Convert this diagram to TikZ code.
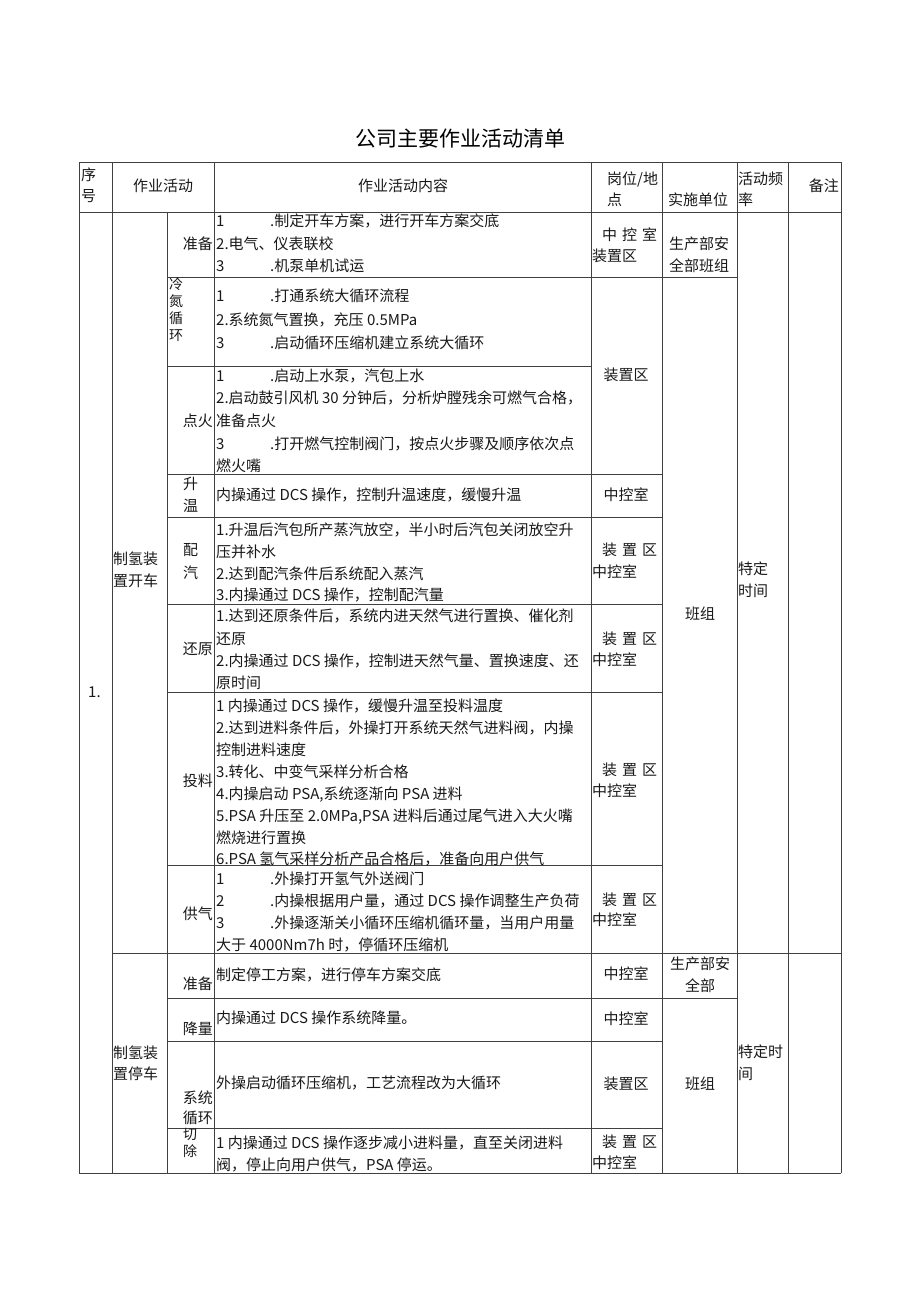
\documentclass[tikz,border=0pt]{standalone}
\usepackage{fontspec}
\setmainfont{Noto Sans CJK SC}
\tikzset{
  ln/.style={draw=black!75, line width=0.8pt},
  tx/.style={anchor=west, inner sep=0pt, text height=0.88em, text depth=0.12em, yshift=-1pt, font=\fontsize{15}{18}\selectfont, text=black!90},
  tc/.style={tx, anchor=center},
  te/.style={tx, anchor=east},
  sc/.style={tx, font=\fontsize{14}{16}\selectfont},
  ttl/.style={anchor=center, inner sep=0pt, font=\fontsize{21}{24}\selectfont}
}
\begin{document}
\begin{tikzpicture}[x=1pt,y=-1pt]
\useasboundingbox (0,0) rectangle (920,1301);
\fill[white] (0,0) rectangle (920,1301);
% title
\node[ttl] (title) at (460,139) {公司主要作业活动清单};
% grid: horizontal
\draw[ln] (79,162) -- (841,162);
\draw[ln] (79,212) -- (841,212);
\draw[ln] (167,277) -- (737,277);
\draw[ln] (167,366) -- (591,366);
\draw[ln] (167,474) -- (662,474);
\draw[ln] (167,517) -- (662,517);
\draw[ln] (167,604) -- (662,604);
\draw[ln] (167,692) -- (662,692);
\draw[ln] (167,865) -- (662,865);
\draw[ln] (112,953) -- (841,953);
\draw[ln] (167,998) -- (737,998);
\draw[ln] (167,1041) -- (662,1041);
\draw[ln] (167,1128) -- (662,1128);
\draw[ln] (79,1173) -- (841,1173);
% grid: vertical
\foreach \xx in {79,112,214,591,662,737,788,841} {\draw[ln] (\xx,162) -- (\xx,1173);}
\draw[ln] (167,212) -- (167,1173);
% header
\node[tx] (h1a) at (81,176) {序};
\node[tx] (h1b) at (81,197) {号};
\node[tc] (h2) at (163,187) {作业活动};
\node[tc] (h3) at (403,187) {作业活动内容};
\node[tx] (h4a) at (607,180) {岗位/地};
\node[tx] (h4b) at (607,201) {点};
\node[tx] (h5) at (668,201) {实施单位};
\node[tx] (h6a) at (738,180) {活动频};
\node[tx] (h6b) at (738,201) {率};
\node[te] (h7) at (839,187) {备注};
% column 1 and 2
\node[tx] (n1) at (88,693) {1.};
\node[tx] (g1a) at (113,560) {制氢装};
\node[tx] (g1b) at (113,582) {置开车};
\node[tx] (g2a) at (113,1054) {制氢装};
\node[tx] (g2b) at (113,1075) {置停车};
% sub activities
\node[te] (s1) at (213,245) {准备};
\node[sc] (s2a) at (169,285) {冷};
\node[sc] (s2b) at (169,302) {氮};
\node[sc] (s2c) at (169,319) {循};
\node[sc] (s2d) at (169,336) {环};
\node[te] (s3) at (213,422) {点火};
\node[tx] (s4a) at (183,485) {升};
\node[tx] (s4b) at (183,507) {温};
\node[tx] (s5a) at (183,551) {配};
\node[tx] (s5b) at (183,574) {汽};
\node[te] (s6) at (213,650) {还原};
\node[te] (s7) at (213,782) {投料};
\node[te] (s8) at (213,915) {供气};
\node[te] (s9) at (213,985) {准备};
\node[te] (s10) at (213,1030) {降量};
\node[te] (s11a) at (213,1099) {系统};
\node[te] (s11b) at (213,1119) {循环};
\node[sc] (s12a) at (183,1135) {切};
\node[sc] (s12b) at (183,1152) {除};
% content: 准备
\node[tx] (a1) at (216,222) {1};
\node[tx] (a1b) at (270,222) {.制定开车方案，进行开车方案交底};
\node[tx] (a2) at (216,245) {2.电气、仪表联校};
\node[tx] (a3) at (216,267) {3};
\node[tx] (a3b) at (270,267) {.机泵单机试运};
% 冷氮循环
\node[tx] (b1) at (216,297) {1};
\node[tx] (b1b) at (270,297) {.打通系统大循环流程};
\node[tx] (b2) at (216,321) {2.系统氮气置换，充压 0.5MPa};
\node[tx] (b3) at (216,344) {3};
\node[tx] (b3b) at (270,344) {.启动循环压缩机建立系统大循环};
% 点火
\node[tx] (c1) at (216,377) {1};
\node[tx] (c1b) at (270,377) {.启动上水泵，汽包上水};
\node[tx] (c2) at (216,399) {2.启动鼓引风机 30 分钟后，分析炉膛残余可燃气合格，};
\node[tx] (c3) at (216,422) {准备点火};
\node[tx] (c4) at (216,445) {3};
\node[tx] (c4b) at (270,445) {.打开燃气控制阀门，按点火步骤及顺序依次点};
\node[tx] (c5) at (216,467) {燃火嘴};
% 升温
\node[tx] (d1) at (216,496) {内操通过 DCS 操作，控制升温速度，缓慢升温};
% 配汽
\node[tx] (e1) at (216,531) {1.升温后汽包所产蒸汽放空，半小时后汽包关闭放空升};
\node[tx] (e2) at (216,553) {压并补水};
\node[tx] (e3) at (216,575) {2.达到配汽条件后系统配入蒸汽};
\node[tx] (e4) at (216,596) {3.内操通过 DCS 操作，控制配汽量};
% 还原
\node[tx] (f1) at (216,617) {1.达到还原条件后，系统内进天然气进行置换、催化剂};
\node[tx] (f2) at (216,640) {还原};
\node[tx] (f3) at (216,662) {2.内操通过 DCS 操作，控制进天然气量、置换速度、还};
\node[tx] (f4) at (216,684) {原时间};
% 投料
\node[tx] (k1) at (216,707) {1 内操通过 DCS 操作，缓慢升温至投料温度};
\node[tx] (k2) at (216,729) {2.达到进料条件后，外操打开系统天然气进料阀，内操};
\node[tx] (k3) at (216,751) {控制进料速度};
\node[tx] (k4) at (216,773) {3.转化、中变气采样分析合格};
\node[tx] (k5) at (216,795) {4.内操启动 PSA,系统逐渐向 PSA 进料};
\node[tx] (k6) at (216,817) {5.PSA 升压至 2.0MPa,PSA 进料后通过尾气进入大火嘴};
\node[tx] (k7) at (216,839) {燃烧进行置换};
\node[tx] (k8) at (216,860) {6.PSA 氢气采样分析产品合格后，准备向用户供气};
% 供气
\node[tx] (m1) at (216,880) {1};
\node[tx] (m1b) at (270,880) {.外操打开氢气外送阀门};
\node[tx] (m2) at (216,902) {2};
\node[tx] (m2b) at (270,902) {.内操根据用户量，通过 DCS 操作调整生产负荷};
\node[tx] (m3) at (216,924) {3};
\node[tx] (m3b) at (270,924) {.外操逐渐关小循环压缩机循环量，当用户用量};
\node[tx] (m4) at (216,946) {大于 4000Nm7h 时，停循环压缩机};
% 停车
\node[tx] (q1) at (216,976) {制定停工方案，进行停车方案交底};
\node[tx] (q2) at (216,1019) {内操通过 DCS 操作系统降量。};
\node[tx] (q3) at (216,1084) {外操启动循环压缩机，工艺流程改为大循环};
\node[tx] (q4a) at (216,1144) {1 内操通过 DCS 操作逐步减小进料量，直至关闭进料};
\node[tx] (q4b) at (216,1166) {阀，停止向用户供气，PSA 停运。};
% 岗位/地点
\node[tx] (p1a) at (602,236) {中\hspace{5pt}控\hspace{5pt}室};
\node[tx] (p1b) at (592,257) {装置区};
\node[tc] (p2) at (626,376) {装置区};
\node[tc] (p3) at (626,496) {中控室};
\node[tx] (p4a) at (602,551) {装\hspace{5pt}置\hspace{5pt}区};
\node[tx] (p4b) at (592,573) {中控室};
\node[tx] (p5a) at (602,640) {装\hspace{5pt}置\hspace{5pt}区};
\node[tx] (p5b) at (592,661) {中控室};
\node[tx] (p6a) at (602,771) {装\hspace{5pt}置\hspace{5pt}区};
\node[tx] (p6b) at (592,792) {中控室};
\node[tx] (p7a) at (602,901) {装\hspace{5pt}置\hspace{5pt}区};
\node[tx] (p7b) at (592,921) {中控室};
\node[tc] (p8) at (626,975) {中控室};
\node[tc] (p9) at (626,1020) {中控室};
\node[tc] (p10) at (626,1085) {装置区};
\node[tx] (p11a) at (602,1143) {装\hspace{5pt}置\hspace{5pt}区};
\node[tx] (p11b) at (592,1164) {中控室};
% 实施单位
\node[tx] (u1a) at (669,245) {生产部安};
\node[tx] (u1b) at (669,267) {全部班组};
\node[tc] (u2) at (700,615) {班组};
\node[tc] (u3a) at (700,965) {生产部安};
\node[tc] (u3b) at (700,987) {全部};
\node[tc] (u4) at (700,1085) {班组};
% 活动频率
\node[tx] (r1a) at (738,570) {特定};
\node[tx] (r1b) at (738,592) {时间};
\node[tx] (r2a) at (738,1053) {特定时};
\node[tx] (r2b) at (738,1075) {间};
\end{tikzpicture}
\end{document}
